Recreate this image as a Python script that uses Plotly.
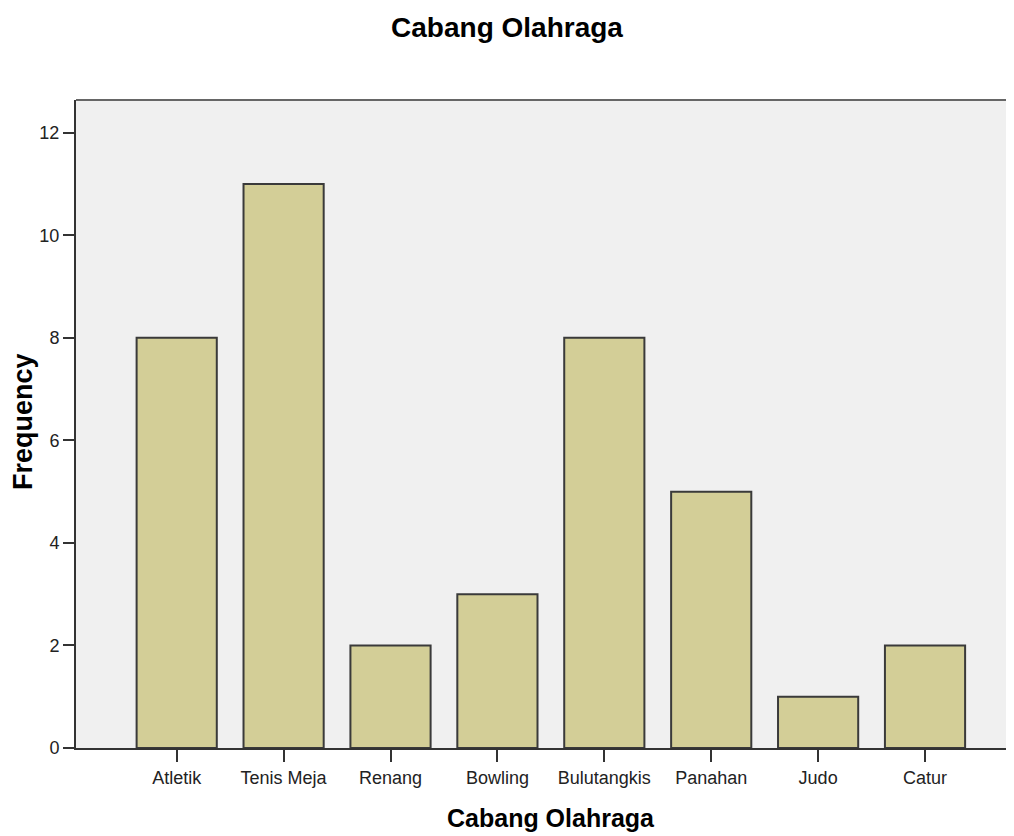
import plotly.graph_objects as go

categories = ["Atletik", "Tenis Meja", "Renang", "Bowling", "Bulutangkis", "Panahan", "Judo", "Catur"]
frequency = [8, 11, 2, 3, 8, 5, 1, 2]
y_ticks = [0, 2, 4, 6, 8, 10, 12]

font = "Liberation Sans, Arial, sans-serif"
W, H = 1022, 828
L, T, B, R = 68, 92, 88, 0
pw, ph = W - L - R, H - T - B

fig = go.Figure(go.Bar(
    x=list(range(len(categories))), y=frequency, width=0.75,
    marker=dict(color="#D3CE97", line=dict(color="#3A3A3A", width=2)),
))

fig.update_layout(
    width=W, height=H,
    margin=dict(l=L, r=R, t=T, b=B, autoexpand=False),
    paper_bgcolor="white", plot_bgcolor="#F0F0F0",
    showlegend=False,
    title=dict(text="<b>Cabang Olahraga</b>", x=(499 - L) / pw, xref="paper", xanchor="center",
               y=1 - 19 / H, yanchor="middle",
               font=dict(family=font, size=28, color="black")),
)

fig.update_xaxes(
    range=[-0.942, 7.982], tickmode="array", tickvals=list(range(len(categories))), ticktext=categories,
    showgrid=False, zeroline=False, showline=True, linecolor="#333333", linewidth=2,
    ticks="outside", ticklen=12, tickwidth=2, tickcolor="#333333",
    tickfont=dict(family=font, size=18, color="#222222"), automargin=False,
)
fig.update_yaxes(
    range=[0, 12.64], tickmode="array", tickvals=y_ticks,
    showgrid=False, zeroline=False, showline=True, linecolor="#333333", linewidth=2,
    ticks="outside", ticklen=11, tickwidth=2, tickcolor="#333333",
    tickfont=dict(family=font, size=18, color="#222222"), automargin=False,
)

fig.add_shape(type="line", xref="paper", yref="paper", x0=0, x1=1, y0=1, y1=1,
              line=dict(color="#666666", width=2))

fig.add_annotation(text="<b>Cabang Olahraga</b>", xref="paper", yref="paper",
                   x=(543 - L) / pw, y=-(810 - (H - B)) / ph, xanchor="center", yanchor="middle",
                   showarrow=False, font=dict(family=font, size=25, color="black"))
fig.add_annotation(text="<b>Frequency</b>", xref="paper", yref="paper", textangle=-90,
                   x=-(L - 15) / pw, y=((H - B) - 414) / ph, xanchor="center", yanchor="middle",
                   showarrow=False, font=dict(family=font, size=27, color="black"))

fig.write_html("out.html")
